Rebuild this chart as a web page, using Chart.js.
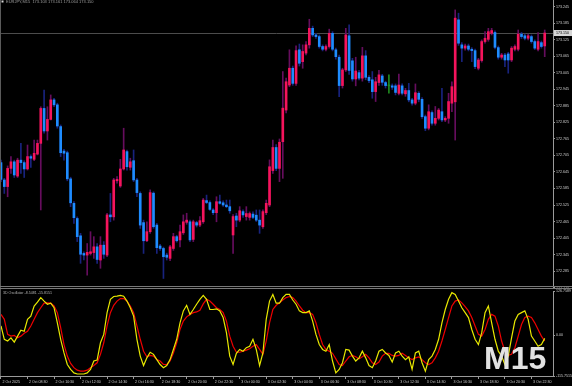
<!DOCTYPE html>
<html>
<head>
<meta charset="utf-8">
<script src="https://cdn.jsdelivr.net/npm/chart.js@4.4.1/dist/chart.umd.min.js"></script>
<style>
  html, body { margin: 0; padding: 0; background: #000; }
  #wrap { position: relative; width: 572px; height: 386px; overflow: hidden; background: #000; }
  canvas { position: absolute; left: 0; }
  #price { top: 0; }
  #osc { top: 287px; }
  #tf { position: absolute; left: 484px; top: 342px; font: bold 32px 'Liberation Sans', Arial, sans-serif; line-height: 32px; color: #e2e2e2; }
</style>
</head>
<body>
<div id="wrap">
  <canvas id="osc" width="572" height="99"></canvas>
  <canvas id="price" width="572" height="291"></canvas>
  <div id="tf">M15</div>
</div>
<script>
// EURJPY M15 candles, 2 Oct 06:30 .. 3 Oct 23:45
const opens = [
  172.679, 172.616, 172.592, 172.658, 172.682, 172.630, 172.688, 172.679, 172.656, 172.701,
  172.691, 172.710, 172.749, 172.876, 172.794, 172.836, 172.907, 172.889, 172.810, 172.721,
  172.715, 172.620, 172.531, 172.476, 172.413, 172.349, 172.343, 172.349, 172.352, 172.373,
  172.325, 172.379, 172.343, 172.489, 172.482, 172.613, 172.594, 172.656, 172.719, 172.662,
  172.686, 172.616, 172.567, 172.461, 172.395, 172.428, 172.568, 172.452, 172.376, 172.367,
  172.343, 172.331, 172.367, 172.410, 172.398, 172.424, 172.462, 172.464, 172.400, 172.461,
  172.452, 172.464, 172.541, 172.534, 172.507, 172.497, 172.537, 172.533, 172.525, 172.519,
  172.416, 172.485, 172.470, 172.501, 172.483, 172.480, 172.492, 172.488, 172.470, 172.446,
  172.497, 172.525, 172.650, 172.734, 172.658, 172.755, 172.870, 172.961, 173.022, 172.967,
  173.089, 173.046, 173.077, 173.107, 173.167, 173.143, 173.137, 173.101, 173.091, 173.101,
  173.149, 173.089, 173.062, 172.959, 173.016, 173.140, 173.049, 172.983, 173.006, 172.986,
  173.067, 172.989, 172.980, 172.937, 172.970, 172.994, 172.970, 172.958, 172.958, 172.958,
  172.931, 172.958, 172.929, 172.941, 172.907, 172.895, 172.931, 172.909, 172.846, 172.804,
  172.861, 172.822, 172.840, 172.864, 172.834, 172.840, 172.895, 172.900, 173.198, 173.107,
  173.095, 173.103, 173.091, 173.086, 173.022, 173.050, 173.119, 173.127, 173.149, 173.152,
  173.097, 173.062, 173.070, 173.074, 173.052, 173.091, 173.091, 173.146, 173.140, 173.131,
  173.137, 173.119, 173.091, 173.115, 173.103
];
const highs = [
  172.688, 172.622, 172.667, 172.701, 172.688, 172.695, 172.749, 172.686, 172.743, 172.707,
  172.761, 172.761, 172.882, 172.943, 172.882, 172.925, 172.913, 172.895, 172.816, 172.727,
  172.721, 172.626, 172.537, 172.482, 172.422, 172.355, 172.385, 172.428, 172.410, 172.385,
  172.410, 172.392, 172.495, 172.567, 172.622, 172.628, 172.691, 172.804, 172.725, 172.695,
  172.725, 172.622, 172.573, 172.470, 172.464, 172.580, 172.573, 172.458, 172.382, 172.372,
  172.350, 172.378, 172.422, 172.415, 172.452, 172.489, 172.495, 172.470, 172.470, 172.466,
  172.483, 172.549, 172.561, 172.540, 172.512, 172.555, 172.561, 172.540, 172.543, 172.543,
  172.490, 172.495, 172.519, 172.507, 172.519, 172.500, 172.500, 172.507, 172.507, 172.507,
  172.543, 172.689, 172.761, 172.745, 172.765, 173.010, 172.986, 173.089, 173.030, 173.103,
  173.110, 173.107, 173.119, 173.200, 173.175, 173.149, 173.143, 173.107, 173.107, 173.164,
  173.155, 173.095, 173.070, 173.022, 173.167, 173.180, 173.058, 173.062, 173.014, 173.098,
  173.086, 172.995, 173.010, 172.989, 173.014, 173.000, 172.975, 172.998, 172.965, 172.965,
  173.001, 172.965, 172.949, 172.967, 172.913, 172.965, 172.937, 172.915, 172.852, 172.889,
  172.867, 172.883, 172.876, 172.949, 172.846, 172.931, 172.973, 173.234, 173.222, 173.115,
  173.110, 173.110, 173.097, 173.092, 173.058, 173.125, 173.155, 173.167, 173.167, 173.158,
  173.103, 173.076, 173.076, 173.080, 173.101, 173.107, 173.161, 173.152, 173.146, 173.146,
  173.143, 173.125, 173.152, 173.121, 173.161
];
const lows = [
  172.610, 172.567, 172.555, 172.640, 172.625, 172.625, 172.640, 172.625, 172.652, 172.662,
  172.686, 172.707, 172.507, 172.786, 172.761, 172.834, 172.882, 172.804, 172.701, 172.688,
  172.613, 172.519, 172.458, 172.392, 172.313, 172.325, 172.270, 172.343, 172.331, 172.313,
  172.295, 172.331, 172.337, 172.464, 172.470, 172.604, 172.589, 172.652, 172.652, 172.652,
  172.610, 172.555, 172.440, 172.349, 172.392, 172.422, 172.440, 172.349, 172.360, 172.258,
  172.325, 172.323, 172.360, 172.390, 172.373, 172.418, 172.455, 172.392, 172.392, 172.445,
  172.446, 172.458, 172.530, 172.505, 172.490, 172.464, 172.528, 172.520, 172.515, 172.495,
  172.349, 172.446, 172.464, 172.480, 172.470, 172.470, 172.475, 172.465, 172.422, 172.440,
  172.490, 172.519, 172.640, 172.650, 172.610, 172.622, 172.860, 172.955, 172.960, 172.960,
  173.030, 173.022, 173.070, 173.095, 173.137, 173.130, 173.095, 173.085, 173.085, 173.095,
  173.085, 173.055, 172.919, 172.950, 173.010, 173.000, 172.975, 172.958, 172.980, 172.975,
  172.980, 172.970, 172.913, 172.901, 172.960, 172.960, 172.950, 172.931, 172.945, 172.925,
  172.925, 172.925, 172.920, 172.900, 172.888, 172.889, 172.900, 172.840, 172.795, 172.798,
  172.815, 172.815, 172.834, 172.828, 172.828, 172.822, 172.864, 172.761, 173.105, 173.046,
  173.088, 173.085, 173.046, 173.020, 173.016, 173.044, 173.113, 173.120, 173.143, 173.092,
  173.055, 173.055, 173.028, 173.004, 173.046, 173.085, 173.085, 173.130, 173.125, 173.125,
  173.113, 173.090, 173.085, 173.095, 173.064
];
const closes = [
  172.618, 172.592, 172.658, 172.682, 172.634, 172.688, 172.679, 172.656, 172.701, 172.695,
  172.713, 172.749, 172.876, 172.794, 172.836, 172.907, 172.889, 172.812, 172.715, 172.713,
  172.620, 172.533, 172.479, 172.410, 172.346, 172.343, 172.353, 172.355, 172.373, 172.327,
  172.379, 172.346, 172.489, 172.482, 172.616, 172.618, 172.656, 172.725, 172.664, 172.682,
  172.616, 172.570, 172.452, 172.395, 172.428, 172.570, 172.446, 172.370, 172.367, 172.337,
  172.335, 172.373, 172.410, 172.395, 172.428, 172.464, 172.470, 172.398, 172.464, 172.452,
  172.468, 172.543, 172.534, 172.509, 172.497, 172.537, 172.531, 172.525, 172.519, 172.504,
  172.483, 172.470, 172.504, 172.489, 172.494, 172.494, 172.480, 172.470, 172.452, 172.501,
  172.531, 172.664, 172.734, 172.658, 172.753, 172.877, 172.973, 173.022, 172.967, 173.086,
  173.040, 173.083, 173.107, 173.167, 173.143, 173.137, 173.101, 173.091, 173.101, 173.149,
  173.091, 173.064, 172.959, 173.016, 173.143, 173.014, 172.983, 173.012, 172.986, 173.067,
  172.989, 172.977, 172.937, 172.973, 172.998, 172.971, 172.959, 172.958, 172.953, 172.934,
  172.961, 172.931, 172.941, 172.907, 172.895, 172.933, 172.909, 172.846, 172.804, 172.864,
  172.822, 172.840, 172.870, 172.834, 172.840, 172.901, 172.955, 173.204, 173.113, 173.095,
  173.103, 173.091, 173.086, 173.028, 173.052, 173.119, 173.131, 173.155, 173.159, 173.098,
  173.062, 173.070, 173.052, 173.052, 173.095, 173.101, 173.146, 173.137, 173.131, 173.140,
  173.119, 173.095, 173.119, 173.101, 173.150
];

// 3D Oscillator: main (yellow) and signal (red)
const oscMain = [
  27, -11, -16, -7, -19, -2, 15, 12, 46, 55,
  84, 95, 108, 98, 89, 92, 79, 36, -11, -50,
  -83, -97, -107, -110, -110, -110, -107, -97, -73, -70,
  -21, 3, 65, 103, 111, 112, 114, 112, 98, 79,
  55, -11, -59, -86, -64, -48, -54, -69, -83, -92,
  -86, -69, -40, -11, 36, 70, 86, 60, 74, 89,
  103, 114, 103, 74, 74, 76, 70, 51, 8, -59,
  -83, -51, -40, -45, -35, -31, -11, -40, -86, -50,
  46, 98, 117, 92, 92, 108, 117, 117, 101, 89,
  70, 65, 65, 70, 41, 3, -26, -40, -45, -26,
  -73, -107, -97, -78, -40, -42, -59, -73, -64, -45,
  -64, -86, -92, -73, -45, -40, -50, -57, -76, -50,
  -45, -59, -69, -61, -97, -50, -45, -78, -102, -69,
  -59, -40, -11, 36, 74, 103, 122, 117, 98, 79,
  65, 51, 17, -11, -26, 8, 65, 84, 36, -11,
  -45, -59, -83, -59, -7, 41, 60, 65, 70, 46,
  -2, -16, -31, -26, -8.5
];
const oscSignal = [
  60, 46, 3, -2, 0, -7, -2, 6, 12, 27,
  46, 65, 79, 92, 93, 92, 84, 65, 22, -26,
  -59, -80, -92, -99, -102, -102, -99, -92, -86, -78,
  -54, -21, 27, 65, 86, 98, 105, 105, 98, 84,
  65, 27, -11, -45, -61, -57, -59, -69, -73, -83,
  -83, -73, -50, -21, 17, 41, 53, 60, 65, 67,
  72, 90, 103, 98, 89, 79, 74, 65, 41, -2,
  -31, -48, -48, -45, -42, -38, -31, -26, -40, -54,
  -16, 36, 74, 86, 93, 101, 108, 111, 108, 98,
  84, 72, 65, 65, 60, 36, 3, -26, -40, -45,
  -51, -67, -83, -86, -73, -61, -57, -61, -67, -61,
  -54, -64, -78, -83, -76, -59, -51, -51, -57, -59,
  -57, -51, -57, -64, -69, -64, -61, -69, -78, -83,
  -78, -64, -45, -16, 17, 51, 84, 98, 101, 93,
  82, 70, 51, 27, 3, -2, 17, 46, 60, 55,
  27, -16, -45, -57, -54, -35, -2, 31, 51, 55,
  51, 36, 17, -2, -15.8
];

const priceTicks = [
  172.225, 172.285, 172.345, 172.405, 172.465, 172.525, 172.585, 172.645, 172.705,
  172.765, 172.825, 172.885, 172.945, 173.005, 173.065, 173.125, 173.185, 173.245
];
const oscTicks = [-115.7515, 0, 126.7589];
const oscTickLabels = ['-115.7515', '0.00', '126.7589'];
// one label every 8 bars (2 hours)
const timeLabels = [
  '2 Oct 2025', '2 Oct 08:30', '2 Oct 10:30', '2 Oct 12:30', '2 Oct 14:30', '2 Oct 16:30',
  '2 Oct 18:30', '2 Oct 20:30', '2 Oct 22:30', '3 Oct 00:30', '3 Oct 02:30', '3 Oct 04:30',
  '3 Oct 06:30', '3 Oct 08:30', '3 Oct 10:30', '3 Oct 12:30', '3 Oct 14:30', '3 Oct 16:30',
  '3 Oct 18:30', '3 Oct 20:30', '3 Oct 22:30'
];

const symbolTitle = 'EURJPY,M15  173.103 173.161 173.064 173.150';
const oscTitle = '3D Oscillator -8.5481 -15.8151';

const UP = '#f5145c', DOWN = '#1e8cff', DOJI = '#1f8a1f';
const UP_WICK = '#660d5e', DOWN_WICK = '#18237e';
const AXIS = '#9a9a9a', TEXT = '#cfcfcf';
const FONT = "'Liberation Sans', Arial, sans-serif";
const X_MIN = -0.3, X_MAX = 166.5;

Chart.defaults.font.family = FONT;

const dir = opens.map((o, i) => closes[i] > o ? 1 : (closes[i] < o ? -1 : 0));
const bodyColors = dir.map(d => d > 0 ? UP : (d < 0 ? DOWN : DOJI));
const wickColors = dir.map(d => d > 0 ? UP_WICK : (d < 0 ? DOWN_WICK : DOJI));

function noPad(scale) {
  scale.paddingTop = 0; scale.paddingBottom = 0;
  scale.paddingLeft = 0; scale.paddingRight = 0;
}

// Price panel extras: bid line, axis tag, borders, title
const pricePanel = {
  id: 'pricePanel',
  beforeDatasetsDraw(chart) {
    const { ctx, chartArea } = chart;
    const y = Math.round(chart.scales.y.getPixelForValue(closes[closes.length - 1])) + 0.5;
    ctx.save();
    ctx.strokeStyle = '#4c4c4c';
    ctx.lineWidth = 1;
    ctx.beginPath();
    ctx.moveTo(chartArea.left, y);
    ctx.lineTo(chartArea.right, y);
    ctx.stroke();
    ctx.restore();
  },
  afterDraw(chart) {
    const { ctx, chartArea } = chart;
    const last = closes[closes.length - 1];
    const y = chart.scales.y.getPixelForValue(last);
    ctx.save();
    // current price tag
    ctx.fillStyle = '#d6d6d6';
    ctx.fillRect(chartArea.right + 1, y - 3, 18, 6);
    ctx.fillStyle = '#000';
    ctx.font = '3.6px ' + FONT;
    ctx.textBaseline = 'middle';
    ctx.fillText(last.toFixed(3), chartArea.right + 3, y);
    // left border
    ctx.strokeStyle = '#5a5a5a';
    ctx.beginPath();
    ctx.moveTo(0.5, 0);
    ctx.lineTo(0.5, chart.height);
    ctx.stroke();
    // window separator
    ctx.strokeStyle = '#787878';
    ctx.beginPath();
    ctx.moveTo(0, 286.5); ctx.lineTo(chart.width, 286.5);
    ctx.moveTo(0, 288.5); ctx.lineTo(chart.width, 288.5);
    ctx.stroke();
    // symbol title
    ctx.fillStyle = '#d8d8d8';
    ctx.fillRect(1.5, 0.5, 2, 2);
    ctx.fillStyle = '#9c9c9c';
    ctx.font = '4px ' + FONT;
    ctx.textBaseline = 'top';
    ctx.fillText(symbolTitle, 6, 0.3);
    ctx.restore();
  }
};

const oscPanel = {
  id: 'oscPanel',
  afterDraw(chart) {
    const { ctx } = chart;
    ctx.save();
    ctx.strokeStyle = '#5a5a5a';
    ctx.beginPath();
    ctx.moveTo(0.5, 0);
    ctx.lineTo(0.5, chart.chartArea.bottom);
    ctx.stroke();
    ctx.fillStyle = '#b4b4b4';
    ctx.font = '3.6px ' + FONT;
    ctx.textBaseline = 'middle';
    ctx.fillText(oscTitle, 3, 5.5);
    ctx.restore();
  }
};

// Candles: wicks and bodies as floating bars
const priceCtx = document.getElementById('price').getContext('2d');
const priceChart = new Chart(priceCtx, {
  type: 'bar',
  data: {
    datasets: [{
      label: 'Wicks',
      data: opens.map((_, i) => ({ x: i, y: [lows[i], highs[i]] })),
      backgroundColor: wickColors,
      borderWidth: 0,
      barThickness: 1,
      grouped: false,
      order: 2
    }, {
      label: 'Bodies',
      data: opens.map((o, i) => ({ x: i, y: [o, closes[i]] })),
      backgroundColor: bodyColors,
      borderWidth: 0,
      barThickness: 2,
      minBarLength: 1,
      grouped: false,
      order: 1
    }]
  },
  options: {
    responsive: false,
    animation: false,
    events: [],
    layout: { padding: { left: 0, right: 0, top: 0, bottom: 4 } },
    plugins: { legend: { display: false }, tooltip: { enabled: false } },
    scales: {
      x: { type: 'linear', min: X_MIN, max: X_MAX, offset: false, display: false },
      y: {
        position: 'right',
        min: 172.227,
        max: 173.270,
        beginAtZero: false,
        afterFit(scale) { scale.width = 19; noPad(scale); },
        afterBuildTicks(scale) { scale.ticks = priceTicks.map(v => ({ value: v })); },
        grid: { drawOnChartArea: false, drawTicks: true, tickLength: 2, color: AXIS },
        border: { display: true, color: AXIS, width: 1 },
        ticks: { color: TEXT, font: { size: 3.6 }, padding: 1, callback: v => v.toFixed(3) }
      }
    }
  },
  plugins: [pricePanel]
});

// Oscillator sub-window
const oscCtx = document.getElementById('osc').getContext('2d');
const oscChart = new Chart(oscCtx, {
  type: 'line',
  data: {
    datasets: [{
      label: 'Main',
      data: oscMain.map((v, i) => ({ x: i, y: v })),
      borderColor: '#e8e800',
      borderWidth: 1.2,
      pointRadius: 0,
      tension: 0,
      fill: false
    }, {
      label: 'Signal',
      data: oscSignal.map((v, i) => ({ x: i, y: v })),
      borderColor: '#ee0000',
      borderWidth: 1.2,
      pointRadius: 0,
      tension: 0,
      fill: false
    }]
  },
  options: {
    responsive: false,
    animation: false,
    events: [],
    layout: { padding: { left: 0, right: 0, top: 4, bottom: 0 } },
    plugins: { legend: { display: false }, tooltip: { enabled: false } },
    scales: {
      x: {
        type: 'linear',
        min: X_MIN,
        max: X_MAX,
        offset: false,
        afterFit(scale) { scale.height = 10; noPad(scale); },
        afterBuildTicks(scale) { scale.ticks = timeLabels.map((t, k) => ({ value: k * 8 })); },
        grid: { drawOnChartArea: false, drawTicks: true, tickLength: 3, color: AXIS },
        border: { display: true, color: AXIS, width: 1 },
        ticks: {
          color: TEXT,
          font: { size: 3.6 },
          align: 'start',
          labelOffset: 1.5,
          padding: 0.5,
          autoSkip: false,
          maxRotation: 0,
          minRotation: 0,
          callback: (v, i) => timeLabels[i]
        }
      },
      y: {
        position: 'right',
        min: oscTicks[0],
        max: oscTicks[2],
        afterFit(scale) { scale.width = 19; noPad(scale); },
        afterBuildTicks(scale) { scale.ticks = oscTicks.map(v => ({ value: v })); },
        grid: { drawOnChartArea: false, drawTicks: true, tickLength: 2, color: AXIS },
        border: { display: true, color: AXIS, width: 1 },
        ticks: { color: TEXT, font: { size: 3.6 }, padding: 1, callback: (v, i) => oscTickLabels[i] }
      }
    }
  },
  plugins: [oscPanel]
});
</script>
</body>
</html>
